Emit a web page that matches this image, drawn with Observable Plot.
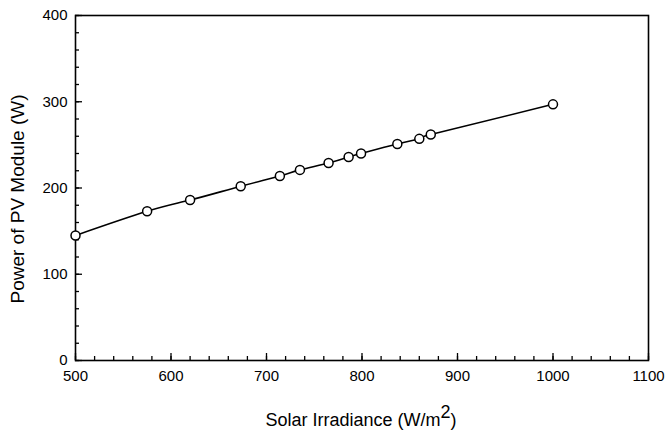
<!DOCTYPE html>
<html>
<head>
<meta charset="utf-8">
<script src="https://cdn.jsdelivr.net/npm/d3@7"></script>
<script src="https://cdn.jsdelivr.net/npm/@observablehq/plot@0.6"></script>
<style>
  body { margin: 0; background: white; }
  #chart svg { display: block; }
</style>
</head>
<body>
<div id="chart"></div>
<script>
// Data
const irradiance = [500, 575, 620, 673, 714, 735, 765, 786, 799, 837, 860, 872, 1000];
const power      = [145, 173, 186, 202, 214, 221, 229, 236, 240, 251, 257, 262, 297];

const xMajorTicks = [500, 600, 700, 800, 900, 1000, 1100];
const yMajorTicks = [0, 100, 200, 300, 400];
const xMinorTicks = d3.range(500, 1101, 20);
const yMinorTicks = d3.range(0, 401, 20);

const xTitle = "Solar Irradiance (W/m";
const xTitleSup = "2";
const xTitleEnd = ")";
const yTitle = "Power of PV Module (W)";

const data = irradiance.map((x, i) => ({x, y: power[i]}));

const font = "Liberation Sans, Arial, sans-serif";

const chart = Plot.plot({
  width: 666,
  height: 431,
  marginLeft: 75,
  marginRight: 18,
  marginTop: 15,
  marginBottom: 71,
  style: {fontFamily: font, fontSize: "15px", color: "black", background: "white"},
  x: {domain: [500, 1100]},
  y: {domain: [0, 400]},
  marks: [
    Plot.axisX({ticks: xMajorTicks, tickSize: 0, tickPadding: 10, label: null, fontSize: 15, tickFormat: d => String(d)}),
    Plot.axisX({ticks: xMinorTicks, tickSize: -4, text: null, label: null, strokeWidth: 1.3}),
    Plot.axisX({ticks: xMajorTicks, tickSize: -7, text: null, label: null, strokeWidth: 1.3}),
    Plot.axisY({ticks: yMajorTicks, tickSize: 0, tickPadding: 8, label: null, fontSize: 15, tickFormat: d => String(d)}),
    Plot.axisY({ticks: yMinorTicks, tickSize: -4, text: null, label: null, strokeWidth: 1.3}),
    Plot.axisY({ticks: yMajorTicks, tickSize: -7, text: null, label: null, strokeWidth: 1.3}),
    Plot.frame({stroke: "black", strokeWidth: 1.6}),
    Plot.line(data, {x: "x", y: "y", curve: "natural", stroke: "black", strokeWidth: 1.6}),
    Plot.dot(data, {x: "x", y: "y", r: 4.5, fill: "white", stroke: "black", strokeWidth: 1.5})
  ]
});

document.getElementById("chart").appendChild(chart);

// Axis titles (with superscript) added into the SVG
const svg = d3.select(chart);
const xt = svg.append("text")
  .attr("x", 361)
  .attr("y", 426)
  .attr("text-anchor", "middle")
  .attr("font-family", font)
  .attr("font-size", 18)
  .attr("fill", "black");
xt.append("tspan").text(xTitle);
xt.append("tspan").attr("dy", -8).text(xTitleSup);
xt.append("tspan").attr("dy", 8).text(xTitleEnd);

svg.append("text")
  .attr("transform", "translate(24,199) rotate(-90)")
  .attr("text-anchor", "middle")
  .attr("font-family", font)
  .attr("font-size", 19)
  .attr("fill", "black")
  .text(yTitle);
</script>
</body>
</html>
